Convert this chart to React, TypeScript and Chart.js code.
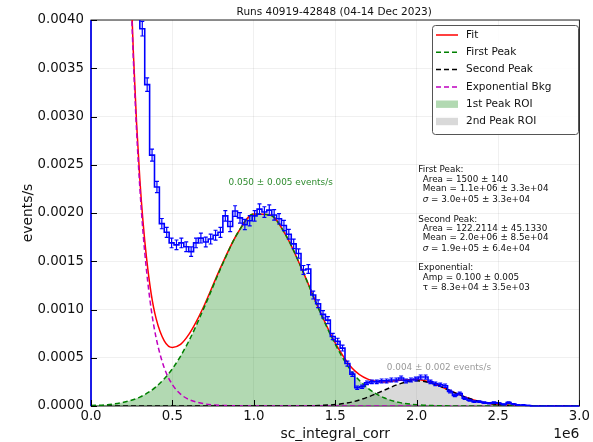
import React, { useEffect, useRef } from 'react';
import { Chart, registerables } from 'chart.js';

Chart.register(...registerables);

const FONT = '"DejaVu Sans", sans-serif';

// Histogram binning of sc_integral_corr
const X_MIN = 0;
const X_MAX = 3.0e6;
const BIN_WIDTH = 3.0e4;

// Event rate per bin (events/s), 100 bins of width 3e4
const binRates = [
  0.0215, 0.0184, 0.0153, 0.0126, 0.0104, 0.0086, 0.0071, 0.0059, 0.005, 0.0043,
  0.00391, 0.00333, 0.0026, 0.00227, 0.00189, 0.0018, 0.00169, 0.00167, 0.00169, 0.00165,
  0.0016, 0.00169, 0.00174, 0.0017, 0.00173, 0.00177, 0.0018, 0.00197, 0.00186, 0.00202,
  0.00195, 0.00188, 0.00192, 0.00197, 0.00204, 0.00201, 0.00203, 0.00198, 0.00194, 0.00187,
  0.00178, 0.00168, 0.00158, 0.00141, 0.00142, 0.00115, 0.00106, 0.00095, 0.00089, 0.00072,
  0.00067, 0.0006, 0.00044, 0.00033, 0.00019, 0.0002, 0.00024, 0.00025, 0.00025, 0.00026,
  0.00026, 0.00027, 0.00027, 0.00029, 0.00026, 0.00027, 0.00028, 0.0003, 0.0003, 0.00025,
  0.00023, 0.00022, 0.00021, 0.00015, 0.00011, 0.00013, 0.00008, 0.00006, 0.000045, 0.000045,
  0.000035, 0.000028, 0.000035, 0.000028, 0.000017, 0.000035, 0.00002, 0.00001, 0.00001, 0.000005,
  0, 0, 0, 0, 0, 0, 0, 0, 0, 0,
];

// Statistical uncertainty of each bin (events/s)
const binErrors = [
  0.00018, 0.00017, 0.00015, 0.00014, 0.00012, 0.00011, 0.0001, 0.000094, 0.000086, 0.00008,
  0.000076, 0.00007, 0.000062, 0.000058, 0.000053, 0.000052, 0.00005, 0.00005, 0.00005, 0.00005,
  0.000049, 0.00005, 0.000051, 0.00005, 0.000051, 0.000051, 0.000052, 0.000054, 0.000053, 0.000055,
  0.000054, 0.000053, 0.000053, 0.000054, 0.000055, 0.000055, 0.000055, 0.000054, 0.000054, 0.000053,
  0.000051, 0.00005, 0.000049, 0.000046, 0.000046, 0.000041, 0.00004, 0.000038, 0.000036, 0.000033,
  0.000032, 0.00003, 0.000026, 0.000022, 0.000017, 0.000017, 0.000019, 0.000019, 0.000019, 0.00002,
  0.00002, 0.00002, 0.00002, 0.000021, 0.00002, 0.00002, 0.00002, 0.000021, 0.000021, 0.000019,
  0.000018, 0.000018, 0.000018, 0.000015, 0.000013, 0.000014, 0.000011, 0.00001, 0.000008, 0.000008,
  0.000007, 0.000007, 0.000007, 0.000007, 0.000005, 0.000007, 0.000006, 0.000004, 0.000004, 0.000003,
  0, 0, 0, 0, 0, 0, 0, 0, 0, 0,
];

// Peak components, sampled at these positions (units of 1e6)
const peakX = [
  0.0, 0.1, 0.2, 0.3, 0.4, 0.5, 0.6, 0.7, 0.8, 0.9, 1.0, 1.1, 1.2, 1.3, 1.4, 1.5,
  1.6, 1.7, 1.8, 1.9, 2.0, 2.1, 2.2, 2.3, 2.4, 2.5, 2.6, 2.7, 2.8, 2.9, 3.0,
];
const firstPeak = [
  0.000005, 0.000014, 0.000038, 0.000092, 0.0002, 0.000386, 0.00067, 0.00104, 0.00144, 0.00179,
  0.00199, 0.00198, 0.00176, 0.0014, 0.001, 0.00064, 0.00036, 0.000186, 0.000085, 0.000035,
  0.000013, 0.000004, 0.000001, 0, 0, 0, 0, 0, 0, 0, 0,
];
const secondPeak = [
  0, 0, 0, 0, 0, 0, 0, 0, 0, 0, 0, 0, 0, 0.000001, 0.000005, 0.000015,
  0.00004, 0.000092, 0.000163, 0.000232, 0.000262, 0.000232, 0.000163, 0.000092, 0.00004, 0.000015,
  0.000005, 0.000001, 0, 0, 0,
];

// Exponential background (units of 1e6 for x)
const bkgX = [
  0.2, 0.22, 0.24, 0.26, 0.28, 0.3, 0.32, 0.34, 0.37, 0.4, 0.45, 0.5, 0.55, 0.6, 0.7, 0.8,
  0.9, 1.0, 1.5, 2.0, 2.5, 3.0,
];
const expBkg = [
  0.00722, 0.00572, 0.00454, 0.0036, 0.00285, 0.00226, 0.00179, 0.00142, 0.001, 0.000706,
  0.000395, 0.000221, 0.000123, 0.000069, 0.0000215, 0.0000067, 0.000002, 0.0000007, 0, 0, 0, 0,
];

// Total fit (units of 1e6 for x)
const fitX = [
  0.2, 0.22, 0.24, 0.26, 0.28, 0.3, 0.32, 0.34, 0.37, 0.4, 0.45, 0.5, 0.55, 0.6, 0.65, 0.7,
  0.8, 0.9, 1.0, 1.1, 1.2, 1.3, 1.4, 1.5, 1.6, 1.7, 1.8, 1.9, 2.0, 2.1, 2.2, 2.3, 2.4, 2.5,
  2.6, 2.7, 2.8, 2.9, 3.0,
];
const fitTotal = [
  0.00726, 0.00577, 0.0046, 0.00367, 0.00293, 0.00235, 0.0019, 0.00155, 0.00116, 0.000906,
  0.000676, 0.000607, 0.000638, 0.000739, 0.000885, 0.00106, 0.00145, 0.00179, 0.00199, 0.00198,
  0.00176, 0.0014, 0.001005, 0.000655, 0.0004, 0.000278, 0.000248, 0.000267, 0.000275, 0.000236,
  0.000164, 0.000092, 0.00004, 0.000015, 0.000005, 0.000001, 0, 0, 0,
];

const xTickLabels = ['0.0', '0.5', '1.0', '1.5', '2.0', '2.5', '3.0'];
const yTickLabels = ['0.0000', '0.0005', '0.0010', '0.0015', '0.0020', '0.0025', '0.0030', '0.0035', '0.0040'];

const TITLE = 'Runs 40919-42848 (04-14 Dec 2023)';
const X_LABEL = 'sc_integral_corr';
const Y_LABEL = 'events/s';
const X_OFFSET_LABEL = '1e6';

const firstPeakRate = '0.050 ± 0.005 events/s';
const secondPeakRate = '0.004 ± 0.002 events/s';

const statLines = [
  { text: 'First Peak:', indent: false },
  { text: 'Area = 1500 ± 140', indent: true },
  { text: 'Mean = 1.1e+06 ± 3.3e+04', indent: true },
  { text: 'σ = 3.0e+05 ± 3.3e+04', indent: true },
  { text: 'Second Peak:', indent: false },
  { text: 'Area = 122.2114 ± 45.1330', indent: true },
  { text: 'Mean = 2.0e+06 ± 8.5e+04', indent: true },
  { text: 'σ = 1.9e+05 ± 6.4e+04', indent: true },
  { text: 'Exponential:', indent: false },
  { text: 'Amp = 0.100 ± 0.005', indent: true },
  { text: 'τ = 8.3e+04 ± 3.5e+03', indent: true },
];
const statLineY = [170, 179.3, 188.6, 199.3, 219.3, 228.3, 237.7, 248.3, 267.7, 277.3, 287.7];

const HIST_COLOR = '#0000ff';
const FIT_COLOR = '#ff0000';
const FIRST_COLOR = '#008000';
const SECOND_COLOR = '#000000';
const EXP_COLOR = '#bf00bf';
const FIRST_FILL = 'rgba(0,128,0,0.3)';
const SECOND_FILL = 'rgba(128,128,128,0.3)';

const legendItems = [
  { label: 'Fit', kind: 'line', color: FIT_COLOR, dash: [] as number[] },
  { label: 'First Peak', kind: 'line', color: FIRST_COLOR, dash: [5, 3] },
  { label: 'Second Peak', kind: 'line', color: SECOND_COLOR, dash: [5, 3] },
  { label: 'Exponential Bkg', kind: 'line', color: EXP_COLOR, dash: [5, 3] },
  { label: '1st Peak ROI', kind: 'patch', color: FIRST_FILL, dash: [] as number[] },
  { label: '2nd Peak ROI', kind: 'patch', color: SECOND_FILL, dash: [] as number[] },
];

const toPoints = (xs: number[], ys: number[]) => xs.map((x, i) => ({ x: x * 1e6, y: ys[i] }));

function histogramSteps() {
  const pts = [{ x: X_MIN, y: 0 }];
  binRates.forEach((r, i) => pts.push({ x: X_MIN + i * BIN_WIDTH, y: r }));
  pts.push({ x: X_MAX, y: binRates[binRates.length - 1] });
  pts.push({ x: X_MAX, y: 0 });
  return pts;
}

const decorPlugin = {
  id: 'decor',
  beforeDatasetsDraw(chart: any) {
    const { ctx, chartArea: a } = chart;
    ctx.save();
    ctx.strokeStyle = '#222';
    ctx.lineWidth = 1;
    ctx.strokeRect(a.left, a.top, a.right - a.left, a.bottom - a.top);
    ctx.restore();
  },
  afterDatasetsDraw(chart: any) {
    const { ctx, chartArea: a, scales } = chart;
    const xs = scales.x;
    const ys = scales.y;

    // error bars on the histogram
    ctx.save();
    ctx.beginPath();
    ctx.rect(a.left, a.top, a.right - a.left, a.bottom - a.top);
    ctx.clip();
    ctx.strokeStyle = HIST_COLOR;
    ctx.lineWidth = 1.2;
    binRates.forEach((r, i) => {
      const e = binErrors[i];
      if (!e) return;
      const cx = xs.getPixelForValue(X_MIN + (i + 0.5) * BIN_WIDTH);
      const y1 = ys.getPixelForValue(r - e);
      const y2 = ys.getPixelForValue(r + e);
      ctx.beginPath();
      ctx.moveTo(cx, y1);
      ctx.lineTo(cx, y2);
      ctx.moveTo(cx - 2, y1);
      ctx.lineTo(cx + 2, y1);
      ctx.moveTo(cx - 2, y2);
      ctx.lineTo(cx + 2, y2);
      ctx.stroke();
    });
    ctx.restore();

    // inward tick marks
    ctx.save();
    ctx.strokeStyle = '#000';
    ctx.lineWidth = 1;
    ctx.beginPath();
    xs.ticks.forEach((t: any) => {
      const px = Math.round(xs.getPixelForValue(t.value)) + 0.5;
      ctx.moveTo(px, a.bottom);
      ctx.lineTo(px, a.bottom - 6);
    });
    ys.ticks.forEach((t: any) => {
      const py = Math.round(ys.getPixelForValue(t.value)) + 0.5;
      ctx.moveTo(a.left, py);
      ctx.lineTo(a.left + 6, py);
    });
    ctx.stroke();
    ctx.restore();
  },
  afterDraw(chart: any) {
    const { ctx, chartArea: a, scales } = chart;
    const xs = scales.x;
    const ys = scales.y;
    ctx.save();

    // title
    ctx.fillStyle = '#111';
    ctx.textAlign = 'center';
    ctx.textBaseline = 'middle';
    ctx.font = `10.5px ${FONT}`;
    ctx.fillText(TITLE, (a.left + a.right) / 2 - 1, 12);

    // axis labels
    ctx.font = `13.9px ${FONT}`;
    ctx.fillText(X_LABEL, (a.left + a.right) / 2, 434);
    ctx.textAlign = 'right';
    ctx.fillText(X_OFFSET_LABEL, a.right, 434);
    ctx.save();
    ctx.translate(28, (a.top + a.bottom) / 2);
    ctx.rotate(-Math.PI / 2);
    ctx.textAlign = 'center';
    ctx.fillText(Y_LABEL, 0, 0);
    ctx.restore();

    // peak rate annotations
    ctx.textAlign = 'center';
    ctx.font = `8.9px ${FONT}`;
    ctx.fillStyle = '#2e8b2e';
    ctx.fillText(firstPeakRate, xs.getPixelForValue(1.165e6), ys.getPixelForValue(0.00231));
    ctx.fillStyle = '#999999';
    ctx.fillText(secondPeakRate, xs.getPixelForValue(2.137e6), ys.getPixelForValue(0.0004));

    // fit parameter summary
    ctx.textAlign = 'left';
    ctx.fillStyle = '#111';
    statLines.forEach((ln, i) => {
      const x = ln.indent ? 422.7 : 418.3;
      const y = statLineY[i];
      if (ln.text.startsWith('σ')) {
        ctx.font = `italic 8.8px ${FONT}`;
        ctx.fillText('σ', x, y);
        const w = ctx.measureText('σ').width;
        ctx.font = `8.8px ${FONT}`;
        ctx.fillText(ln.text.slice(1), x + w, y);
      } else {
        ctx.font = `8.8px ${FONT}`;
        ctx.fillText(ln.text, x, y);
      }
    });

    // legend
    const bx = 432, by = 25, bw = 146, bh = 109;
    ctx.beginPath();
    ctx.roundRect(bx + 0.5, by + 0.5, bw, bh, 3);
    ctx.fillStyle = 'rgba(255,255,255,0.85)';
    ctx.fill();
    ctx.strokeStyle = '#555';
    ctx.lineWidth = 1;
    ctx.stroke();
    legendItems.forEach((it, i) => {
      const y = 35 + i * 17.3;
      if (it.kind === 'line') {
        ctx.beginPath();
        ctx.setLineDash(it.dash);
        ctx.strokeStyle = it.color;
        ctx.lineWidth = 1.5;
        ctx.moveTo(436, y);
        ctx.lineTo(458, y);
        ctx.stroke();
        ctx.setLineDash([]);
      } else {
        ctx.fillStyle = it.color;
        ctx.fillRect(436, y - 3.7, 22, 7.4);
      }
      ctx.fillStyle = '#111';
      ctx.font = `10.5px ${FONT}`;
      ctx.textAlign = 'left';
      ctx.textBaseline = 'middle';
      ctx.fillText(it.label, 466, y);
    });

    ctx.restore();
  },
};

export default function App() {
  const canvasRef = useRef<HTMLCanvasElement | null>(null);

  useEffect(() => {
    const canvas = canvasRef.current;
    if (!canvas) return;
    const curve = {
      pointRadius: 0,
      borderWidth: 1.5,
      cubicInterpolationMode: 'monotone' as const,
      fill: false,
    };
    const chart = new Chart(canvas, {
      type: 'line',
      data: {
        datasets: [
          {
            label: '1st Peak ROI',
            data: toPoints(peakX, firstPeak),
            ...curve,
            borderWidth: 0,
            borderColor: 'rgba(0,0,0,0)',
            backgroundColor: FIRST_FILL,
            fill: 'origin',
            order: 10,
          },
          {
            label: '2nd Peak ROI',
            data: toPoints(peakX, secondPeak),
            ...curve,
            borderWidth: 0,
            borderColor: 'rgba(0,0,0,0)',
            backgroundColor: SECOND_FILL,
            fill: 'origin',
            order: 9,
          },
          {
            label: 'Fit',
            data: toPoints(fitX, fitTotal),
            ...curve,
            borderColor: FIT_COLOR,
            order: 8,
          },
          {
            label: 'First Peak',
            data: toPoints(peakX, firstPeak),
            ...curve,
            borderColor: FIRST_COLOR,
            borderDash: [5, 3],
            order: 6,
          },
          {
            label: 'Second Peak',
            data: toPoints(peakX, secondPeak),
            ...curve,
            borderColor: SECOND_COLOR,
            borderDash: [5, 3],
            order: 6,
          },
          {
            label: 'Exponential Bkg',
            data: toPoints(bkgX, expBkg),
            ...curve,
            borderColor: EXP_COLOR,
            borderDash: [5, 3],
            order: 6,
          },
          {
            label: 'Data',
            data: histogramSteps(),
            pointRadius: 0,
            borderWidth: 1.6,
            borderColor: HIST_COLOR,
            stepped: true,
            fill: false,
            clip: { left: 2, top: 0, right: 1, bottom: 1 },
            order: 1,
          },
        ],
      },
      options: {
        responsive: false,
        devicePixelRatio: 1,
        animation: false,
        events: [],
        layout: { padding: { top: 20, right: 12, left: 0, bottom: 0 } },
        plugins: {
          legend: { display: false },
          tooltip: { enabled: false },
          title: { display: false },
        },
        scales: {
          x: {
            type: 'linear',
            min: X_MIN,
            max: X_MAX,
            afterFit: (s: any) => { s.height = 36; },
            ticks: {
              stepSize: 5e5,
              padding: 3,
              color: '#111',
              font: { family: FONT, size: 13.3 },
              maxRotation: 0,
              callback: (v: any, i: number) => xTickLabels[i] ?? '',
            },
            grid: { color: 'rgba(0,0,0,0.08)', lineWidth: 0.8, drawTicks: false },
            border: { display: false },
          },
          y: {
            type: 'linear',
            min: 0,
            max: 0.004,
            afterFit: (s: any) => { s.width = 91; },
            ticks: {
              stepSize: 0.0005,
              padding: 7,
              color: '#111',
              font: { family: FONT, size: 13.3 },
              callback: (v: any, i: number) => yTickLabels[i] ?? '',
            },
            grid: { color: 'rgba(0,0,0,0.08)', lineWidth: 0.8, drawTicks: false },
            border: { display: false },
          },
        },
      },
      plugins: [decorPlugin],
    } as any);
    return () => chart.destroy();
  }, []);

  return (
    <canvas
      ref={canvasRef}
      width={593}
      height={442}
      style={{ position: 'fixed', left: 0, top: 0, width: 593, height: 442, background: '#fff' }}
    />
  );
}
